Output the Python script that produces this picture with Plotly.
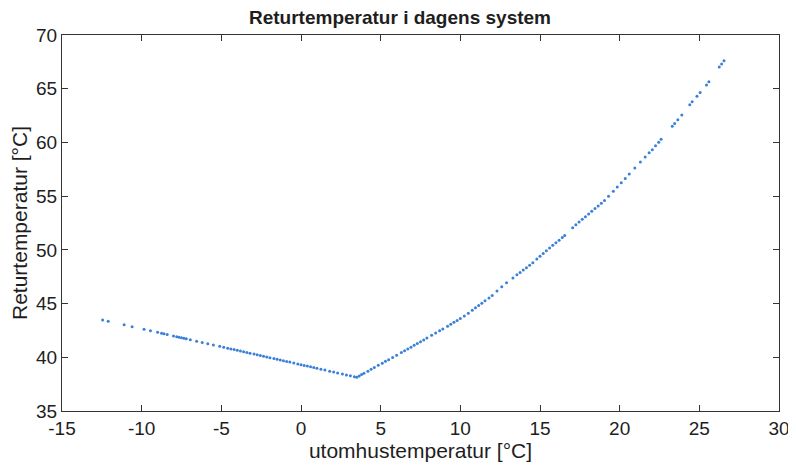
import plotly.graph_objects as go

# Left branch (falling part) of the scatter
x_left = [-12.45, -12.1, -11.1, -10.6, -9.85, -9.45, -9.0, -8.75, -8.6, -8.4, -8.0, -7.8,
          -7.65, -7.5, -7.35, -7.2, -6.95, -6.55, -6.2, -5.85, -5.5, -5.1, -4.85, -4.6,
          -4.4, -4.2, -4.0, -3.8, -3.6, -3.4, -3.2, -2.95, -2.75, -2.55, -2.35, -2.15,
          -1.95, -1.7, -1.5, -1.3, -1.1, -0.9, -0.7, -0.45, -0.2, 0.0, 0.2, 0.4, 0.6,
          0.8, 1.0, 1.25, 1.5, 1.8, 2.05, 2.3, 2.6, 2.85, 3.1, 3.35]
y_left = [43.47, 43.35, 43.02, 42.85, 42.60, 42.47, 42.32, 42.23, 42.18, 42.12, 41.98, 41.92,
          41.87, 41.82, 41.77, 41.72, 41.64, 41.50, 41.38, 41.27, 41.15, 41.02, 40.93, 40.85,
          40.78, 40.72, 40.65, 40.58, 40.52, 40.45, 40.38, 40.30, 40.23, 40.16, 40.10, 40.03,
          39.96, 39.88, 39.81, 39.75, 39.68, 39.61, 39.55, 39.46, 39.38, 39.31, 39.24, 39.18, 39.11,
          39.04, 38.98, 38.89, 38.81, 38.71, 38.63, 38.54, 38.44, 38.36, 38.28, 38.19]

# Right branch (rising part) of the scatter
x_right = [3.5, 3.65, 3.8, 3.95, 4.2, 4.4, 4.6, 4.85, 5.1, 5.3, 5.5, 5.75, 6.0, 6.3, 6.5, 6.7,
           6.9, 7.1, 7.3, 7.5, 7.7, 7.9, 8.2, 8.45, 8.7, 8.9, 9.2, 9.4, 9.6, 9.8, 10.0, 10.25,
           10.5, 10.75, 10.95, 11.15, 11.35, 11.55, 11.8, 12.0, 12.3, 12.6, 12.9, 13.3, 13.55,
           13.75, 13.95, 14.15, 14.35, 14.55, 14.8, 15.0, 15.2, 15.4, 15.6, 15.8, 16.0, 16.2,
           16.4, 16.55, 17.05, 17.25, 17.45, 17.65, 17.85, 18.05, 18.25, 18.45, 18.65, 18.85,
           19.05, 19.3, 19.6, 19.85, 20.1, 20.35, 20.6, 20.95, 21.3, 21.6, 21.85, 22.05, 22.25,
           22.45, 22.6, 23.3, 23.45, 23.65, 23.9, 24.4, 24.55, 24.85, 25.05, 25.45, 25.6, 26.25,
           26.4, 26.55]
y_right = [38.14, 38.26, 38.39, 38.51, 38.71, 38.88, 39.04, 39.25, 39.45, 39.62, 39.78, 39.99,
           40.19, 40.44, 40.60, 40.77, 40.93, 41.11, 41.28, 41.45, 41.62, 41.79, 42.05, 42.26,
           42.47, 42.64, 42.90, 43.08, 43.25, 43.43, 43.60, 43.85, 44.10, 44.38, 44.60, 44.81,
           45.03, 45.26, 45.53, 45.75, 46.17, 46.57, 46.93, 47.39, 47.68, 47.90, 48.12, 48.34,
           48.56, 48.81, 49.14, 49.40, 49.66, 49.92, 50.18, 50.42, 50.66, 50.90, 51.15, 51.34,
           52.06, 52.33, 52.59, 52.84, 53.09, 53.34, 53.59, 53.84, 54.09, 54.33, 54.60, 54.99,
           55.46, 55.84, 56.24, 56.65, 57.06, 57.63, 58.17, 58.65, 59.03, 59.33, 59.69, 60.01,
           60.30, 61.51, 61.77, 62.12, 62.56, 63.51, 63.78, 64.31, 64.64, 65.35, 65.65, 67.02,
           67.31, 67.60]

x_ticks = [-15, -10, -5, 0, 5, 10, 15, 20, 25, 30]
y_ticks = [35, 40, 45, 50, 55, 60, 65, 70]

title_text = "Returtemperatur i dagens system"
x_title = "utomhustemperatur [°C]"
y_title = "Returtemperatur [°C]"

FONT = "Liberation Sans, Arial, sans-serif"
TXT = "#1e1e1e"
DOT = "#3a80d8"

fig = go.Figure()
fig.add_trace(go.Scatter(x=x_left + x_right, y=y_left + y_right, mode="markers",
                         marker=dict(size=3, color=DOT, line=dict(width=0)),
                         showlegend=False, hoverinfo="x+y"))

axis_common = dict(showline=True, linecolor="#333333", linewidth=1.2, mirror="ticks",
                   ticks="inside", ticklen=6, tickcolor="#333333", showgrid=False,
                   zeroline=False, automargin=False,
                   tickfont=dict(family=FONT, size=19, color=TXT))

# The page body adds an 8 px offset, so the figure is sized to fit the window.
fig.update_layout(
    width=784, height=455,
    paper_bgcolor="white", plot_bgcolor="white",
    margin=dict(l=54, r=13, t=27, b=52),
    title=dict(text="<b>" + title_text + "</b>", x=0.5, xanchor="center",
               xref="container", y=0.98, yanchor="middle",
               font=dict(family=FONT, size=19, color=TXT)),
    xaxis=dict(range=[-15, 30], tickvals=x_ticks, ticktext=[str(v) for v in x_ticks],
               title=dict(text=x_title, font=dict(family=FONT, size=21, color=TXT),
                          standoff=2),
               **axis_common),
    yaxis=dict(range=[35, 70], tickvals=y_ticks, ticktext=[str(v) for v in y_ticks],
               title=dict(text=y_title, font=dict(family=FONT, size=21, color=TXT),
                          standoff=2),
               **axis_common),
)

fig.write_html("out.html")
